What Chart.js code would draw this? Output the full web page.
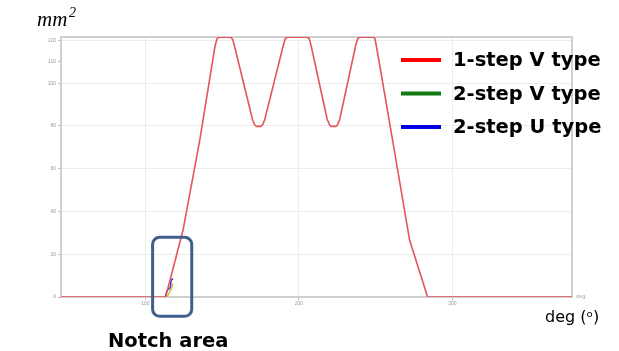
<!DOCTYPE html>
<html>
<head>
<meta charset="utf-8">
<script src="https://cdn.jsdelivr.net/npm/chart.js@4"></script>
<style>
  html, body { margin: 0; padding: 0; background: #fff; }
  #wrap { width: 619px; height: 351px; }
</style>
</head>
<body>
<div id="wrap"><canvas id="myChart" width="619" height="351"></canvas></div>
<script>
// data (deg, mm^2)
const seriesNames = ['1-step V type', '2-step V type', '2-step U type'];
const legendColors = ['#ff0000', '#127a12', '#0000e6'];
const lineColors = ['#e8535c', '#c8c43a', '#3a3ad8'];

const oneStepVDeg = [45, 113.2, 124.5, 135.4, 145.4, 146.8, 148, 155.5, 156.9, 158,
  169.8, 171.2, 172.4, 175.2, 176.4, 177.8, 189.8, 191.2, 192.5, 205.5, 206.7, 208,
  218.5, 220, 221, 224.2, 225.2, 226.6, 237, 238.4, 239.7, 248.5, 249.5, 250.5,
  261.1, 272.2, 283.9, 378];
const oneStepVArea = [0, 0, 31.2, 73.2, 117.5, 121, 121.5, 121.5, 120.5, 117.5,
  83, 80.5, 79.8, 79.8, 80.5, 83, 117.5, 121, 121.5, 121.5, 121, 117.5,
  83, 80.5, 79.8, 79.8, 80.5, 83, 117.5, 121, 121.5, 121.5, 121, 117.5,
  73.2, 26.5, 0, 0];

const twoStepVDeg = [113.5, 114.7, 116.9, 118.0];
const twoStepVArea = [0, 0.8, 3.9, 6.3];

const twoStepUDeg = [112.8, 113.2, 114.1, 116.3, 116.7, 118.0];
const twoStepUArea = [0, 0.8, 3.1, 4.4, 7.8, 8.6];

const xTicks = [100, 200, 300];
const yTicks = [0, 20, 40, 60, 80, 100, 110, 120];

// notch area box in data units [xMin, xMax, yMin, yMax]
const notchBox = [104.7, 130.2, -9, 27.9];

function pts(xs, ys) { return xs.map((x, i) => ({ x: x, y: ys[i] })); }

const extras = {
  id: 'extras',
  beforeDatasetsDraw(chart) {
    const c = chart.ctx, a = chart.chartArea;
    c.save();
    c.strokeStyle = '#cfcfcf';
    c.lineWidth = 2;
    c.strokeRect(a.left, a.top, a.right - a.left, a.bottom - a.top);
    c.restore();
  },
  afterDraw(chart) {
    const c = chart.ctx, a = chart.chartArea;
    const xs = chart.scales.x, ys = chart.scales.y;
    c.save();
    // legend
    c.textBaseline = 'middle';
    c.font = 'bold 19.5px "DejaVu Sans", sans-serif';
    for (let i = 0; i < seriesNames.length; i++) {
      const y = a.top + 23 + i * 33.5;
      c.strokeStyle = legendColors[i];
      c.lineWidth = 4;
      c.beginPath();
      c.moveTo(a.right - 171, y);
      c.lineTo(a.right - 131, y);
      c.stroke();
      c.fillStyle = '#000';
      c.fillText(seriesNames[i], a.right - 119, y + 1);
    }
    // notch box
    const bx = xs.getPixelForValue(notchBox[0]), bx2 = xs.getPixelForValue(notchBox[1]);
    const by = ys.getPixelForValue(notchBox[3]), by2 = ys.getPixelForValue(notchBox[2]);
    c.strokeStyle = '#3f5f8c';
    c.lineWidth = 3;
    c.beginPath();
    c.roundRect(bx, by, bx2 - bx, by2 - by, 7);
    c.stroke();
    // texts
    c.fillStyle = '#000';
    c.textBaseline = 'alphabetic';
    c.font = 'bold 19.5px "DejaVu Sans", sans-serif';
    c.fillText('Notch area', 108, 347);
    c.font = '16px "DejaVu Sans", sans-serif';
    c.fillText('deg (\u1d52)', 545, 322);
    c.font = 'italic 21px "Liberation Serif", serif';
    c.fillText('mm', 37, 26);
    c.font = 'italic 14px "Liberation Serif", serif';
    c.fillText('2', 69, 17);
    c.font = '5px "DejaVu Sans", sans-serif';
    c.fillStyle = '#999';
    c.fillText('deg', a.right + 4, a.bottom + 1);
    c.restore();
  }
};

const ctx = document.getElementById('myChart').getContext('2d');

var graphData = {
  type: 'line',
  data: {
    datasets: [
      { label: seriesNames[0], data: pts(oneStepVDeg, oneStepVArea), borderColor: lineColors[0], borderWidth: 1.6 },
      { label: seriesNames[1], data: pts(twoStepVDeg, twoStepVArea), borderColor: lineColors[1], borderWidth: 1.5 },
      { label: seriesNames[2], data: pts(twoStepUDeg, twoStepUArea), borderColor: lineColors[2], borderWidth: 1.5 }
    ]
  },
  options: {
    responsive: false,
    animation: false,
    layout: { padding: { top: 37, right: 47, bottom: 42, left: 0 } },
    elements: { point: { radius: 0 }, line: { tension: 0 } },
    plugins: { legend: { display: false }, tooltip: { enabled: false } },
    scales: {
      x: {
        type: 'linear', min: 45, max: 378,
        afterBuildTicks: (s) => { s.ticks = xTicks.map(v => ({ value: v })); },
        afterFit: (s) => { s.height = 12; },
        border: { display: false },
        grid: { color: '#ececec', lineWidth: 1, tickLength: 3, tickColor: '#bbb' },
        ticks: { font: { size: 5 }, color: '#999', padding: 1, maxRotation: 0 }
      },
      y: {
        min: 0, max: 121.6,
        afterBuildTicks: (s) => { s.ticks = yTicks.map(v => ({ value: v })); },
        afterFit: (s) => { s.width = 61; },
        border: { display: false },
        grid: {
          color: (c) => c.tick && c.tick.value === 110 ? 'rgba(0,0,0,0)' : '#ececec',
          lineWidth: 1, tickLength: 3, tickColor: '#bbb'
        },
        ticks: { font: { size: 5 }, color: '#999', padding: 2 }
      }
    }
  },
  plugins: [extras]
};

var myChart = new Chart(ctx, graphData);
</script>
</body>
</html>
